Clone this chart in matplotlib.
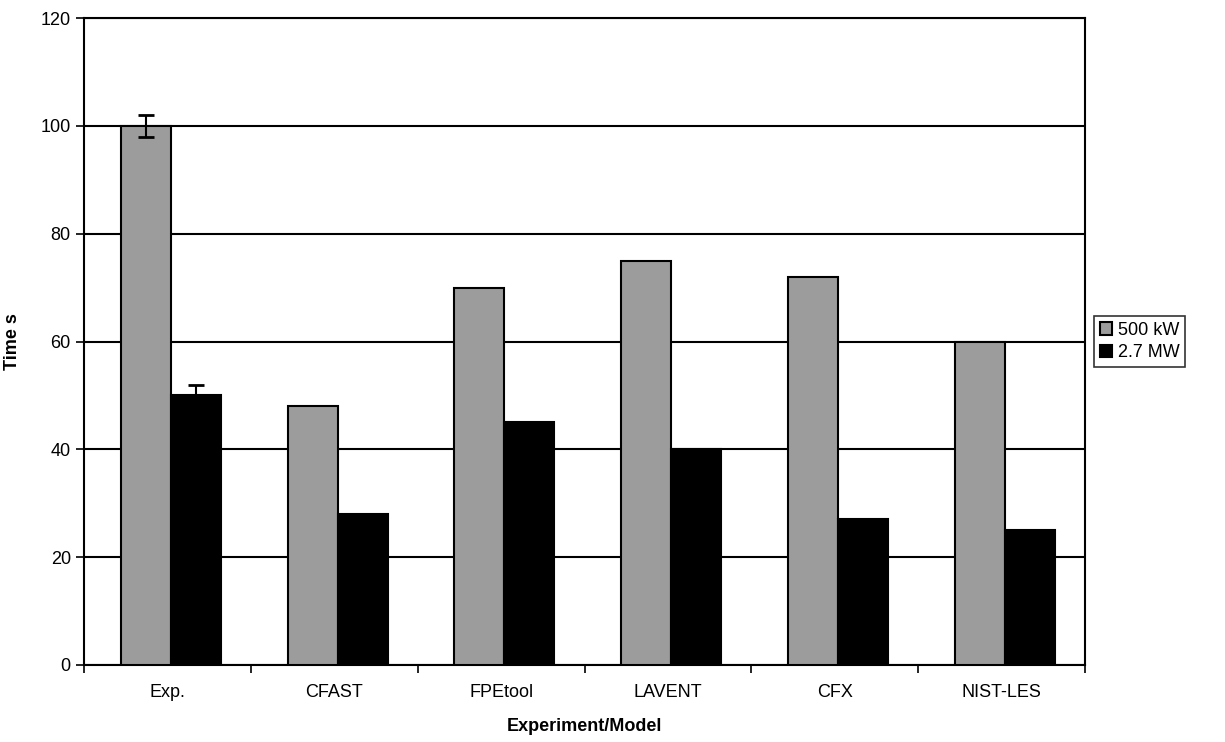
import matplotlib.pyplot as plt
import numpy as np

plt.rcParams['font.family'] = ['Liberation Sans', 'DejaVu Sans']

models = ['Exp.', 'CFAST', 'FPEtool', 'LAVENT', 'CFX', 'NIST-LES']
t_500kw = [100, 48, 70, 75, 72, 60]
t_27mw = [50, 28, 45, 40, 27, 25]
err_500kw = [2, 0, 0, 0, 0, 0]
err_27mw = [2, 0, 0, 0, 0, 0]

fig = plt.figure(figsize=(12.25, 7.42), dpi=100)
ax = fig.add_axes([0.0686, 0.1038, 0.8171, 0.8719])

x = np.arange(len(models))
w = 0.3

b1 = ax.bar(x - w / 2 + 0.02, t_500kw, w, color='#9c9c9c', edgecolor='black',
            linewidth=1.5, label='500 kW', zorder=3)
b2 = ax.bar(x + w / 2 + 0.02, t_27mw, w, color='black', edgecolor='black',
            linewidth=1.5, label='2.7 MW', zorder=3)

# error bars only for the experiment
for xs, vals, errs in [(x - w / 2 + 0.02, t_500kw, err_500kw),
                       (x + w / 2 + 0.02, t_27mw, err_27mw)]:
    idx = [i for i, e in enumerate(errs) if e > 0]
    ax.errorbar(xs[idx], [vals[i] for i in idx], yerr=[errs[i] for i in idx],
                fmt='none', ecolor='black', elinewidth=1.5, capsize=6,
                capthick=2, zorder=4)

ax.set_xlim(-0.5, len(models) - 0.5)
ax.set_ylim(0, 120)
ax.set_yticks(range(0, 121, 20))
ax.yaxis.grid(True, color='black', linewidth=1.5, zorder=0)
ax.set_axisbelow(True)

ax.set_xticks(x)
ax.set_xticklabels(models, fontsize=13)
ax.set_xticks(np.arange(-0.5, len(models), 1), minor=True)
ax.tick_params(axis='x', which='major', length=0, pad=14)
ax.tick_params(axis='x', which='minor', length=6, width=1.2, direction='out')
ax.tick_params(axis='y', labelsize=13, length=6, width=1.2, direction='out')

for s in ax.spines.values():
    s.set_linewidth(1.5)
    s.set_color('black')

ax.set_xlabel('Experiment/Model', fontsize=13, fontweight='bold', labelpad=12)
ax.set_ylabel('Time s', fontsize=13, fontweight='bold', labelpad=14)

leg = ax.legend(handles=[b1, b2], loc='center left',
                bbox_to_anchor=(1.004, 0.5), fontsize=13, frameon=True,
                fancybox=False, edgecolor='black', handlelength=0.7,
                handleheight=0.7, handletextpad=0.3, borderpad=0.3,
                labelspacing=0.3, borderaxespad=0.3)
leg.get_frame().set_linewidth(1.2)

fig.savefig('out.png', dpi=100)
